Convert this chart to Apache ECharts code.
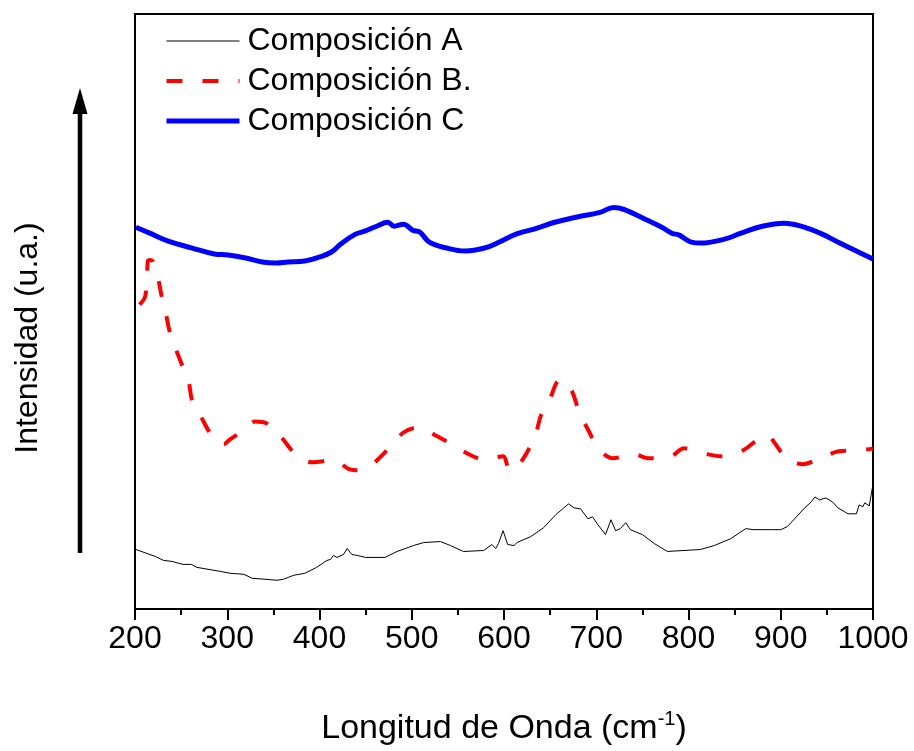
<!DOCTYPE html>
<html>
<head>
<meta charset="utf-8">
<script src="https://cdn.jsdelivr.net/npm/echarts@6/dist/echarts.min.js"></script>
<style>
html,body{margin:0;padding:0;background:#fff;}
#chart{width:914px;height:751px;}
</style>
</head>
<body>
<div id="chart"></div>
<script>
// ---- Data (intensity in arbitrary units) ----
var seriesNames = ['Composición A', 'Composición B.', 'Composición C'];

var waveA = [201,213,222,231,240,252,261,267,292,303,318,327,341,354,361,372,384,397,408,412,415,419,426,430,435,441,450,471,484,502,513,531,542,556,578,587,591,594,599,604,611,614,629,643,656,670,676,683,691,696,701,710,716,721,726,732,737,750,763,777,813,828,846,862,871,891,900,907,926,933,937,942,949,956,962,973,982,985,989,991,996,1000];
var intA = [60,56,53,49,48,45,45,42,38,36,35,31,30,29,30,34,36,42,49,50,54,52,55,61,55,54,52,52,58,64,67,68,64,58,59,65,61,66,79,65,64,67,73,82,95,106,102,101,91,93,86,75,90,79,81,87,80,75,66,58,60,64,71,81,80,80,80,83,102,108,113,110,112,108,102,96,96,105,103,107,104,126];

var waveB = [205,211,213,214,216,219,224,229,233,238,243,251,258,262,271,281,292,296,303,319,330,343,357,376,392,415,432,439,453,470,491,506,515,526,540,564,578,591,599,605,607,618,625,634,640,649,660,665,674,682,691,703,718,741,757,781,795,821,835,859,874,886,893,907,924,947,963,987,1000];
var intB = [307,315,337,351,352,351,338,315,300,278,265,246,230,210,195,178,167,166,171,181,189,187,175,154,148,150,141,140,143,157,178,183,181,175,168,155,151,153,154,141,140,148,158,175,195,210,231,230,219,197,181,161,152,156,152,154,162,156,154,160,170,175,168,151,146,154,159,160,162];

var waveC = [201,216,236,262,286,301,320,338,353,366,384,400,413,423,439,449,462,474,481,491,501,509,519,538,558,579,595,613,636,655,678,704,719,730,753,771,782,790,803,813,839,857,880,904,922,945,964,984,1000];
var intC = [385,379,371,364,358,357,354,350,349,350,351,355,360,368,378,381,386,390,386,388,382,380,370,364,361,364,370,378,384,390,395,400,405,403,393,385,379,377,370,369,373,379,386,389,386,378,369,360,353];

var xMin = 200, xMax = 1000, xStep = 100;
var xTitle = '{a|Longitud de Onda (cm}{s|-1}{a|)}';
var yTitle = 'Intensidad (u.a.)';

function pairs(xs, ys) { return xs.map(function (x, i) { return [x, ys[i]]; }); }

var FONT = 'Liberation Sans, Arial, sans-serif';
var chart = echarts.init(document.getElementById('chart'), null, {renderer: 'canvas'});

chart.setOption({
  animation: false,
  backgroundColor: '#ffffff',
  grid: {
    left: 135, right: 41, top: 14, bottom: 137,
    show: true, borderColor: '#000', borderWidth: 2, backgroundColor: 'transparent'
  },
  legend: {
    orient: 'vertical',
    left: 164, top: 25, padding: 0,
    itemWidth: 73, itemHeight: 14, itemGap: 8,
    textStyle: {fontFamily: FONT, fontSize: 32, lineHeight: 32, color: '#000', padding: [0, 0, 0, 3]},
    data: [
      {name: seriesNames[0], itemStyle: {opacity: 0}, lineStyle: {width: 1, color: '#000', type: 'solid'}},
      {name: seriesNames[1], itemStyle: {opacity: 0}, lineStyle: {width: 4, color: '#ff0000', type: [16, 20]}},
      {name: seriesNames[2], itemStyle: {opacity: 0}, lineStyle: {width: 5, color: '#0000ff', type: 'solid'}}
    ]
  },
  xAxis: {
    type: 'value',
    min: xMin, max: xMax, interval: xStep,
    axisLine: {show: true, lineStyle: {color: '#000', width: 2}},
    axisTick: {show: true, inside: false, length: 11, lineStyle: {color: '#000', width: 2}},
    minorTick: {show: true, splitNumber: 2, length: 6, lineStyle: {color: '#000', width: 2}},
    splitLine: {show: false},
    axisLabel: {fontFamily: FONT, fontSize: 32, color: '#000', margin: 14, formatter: function (v) { return String(v); }},
    name: xTitle,
    nameLocation: 'middle',
    nameGap: 100,
    nameTextStyle: {
      rich: {
        a: {fontFamily: FONT, fontSize: 34, color: '#000', lineHeight: 40},
        s: {fontFamily: FONT, fontSize: 20, color: '#000', verticalAlign: 'top', lineHeight: 20, padding: [0, 0, 14, 0]}
      }
    }
  },
  yAxis: {
    type: 'value',
    min: 0, max: 600,
    axisLine: {show: true, lineStyle: {color: '#000', width: 2}},
    axisTick: {show: false},
    axisLabel: {show: false},
    splitLine: {show: false}
  },
  graphic: [
    {
      type: 'line', silent: true,
      shape: {x1: 80, y1: 553, x2: 80, y2: 108},
      style: {stroke: '#000', lineWidth: 4.5}
    },
    {
      type: 'polygon', silent: true,
      shape: {points: [[80, 88], [72.5, 114], [87.5, 114]]},
      style: {fill: '#000'}
    },
    {
      type: 'text', silent: true,
      x: 28, y: 338, rotation: Math.PI / 2,
      style: {text: yTitle, fontFamily: FONT, fontSize: 32, fill: '#000', align: 'center', verticalAlign: 'middle'}
    }
  ],
  series: [
    {
      name: seriesNames[0], type: 'line', data: pairs(waveA, intA),
      symbol: 'none', smooth: false,
      lineStyle: {color: '#000', width: 1}, itemStyle: {color: '#000'}
    },
    {
      name: seriesNames[1], type: 'line', data: pairs(waveB, intB),
      symbol: 'none', smooth: 0.3,
      lineStyle: {color: '#ff0000', width: 4, type: [16, 20]}, itemStyle: {color: '#ff0000'}
    },
    {
      name: seriesNames[2], type: 'line', data: pairs(waveC, intC),
      symbol: 'none', smooth: 0.4,
      lineStyle: {color: '#0000ff', width: 5}, itemStyle: {color: '#0000ff'}
    }
  ]
});
</script>
</body>
</html>
